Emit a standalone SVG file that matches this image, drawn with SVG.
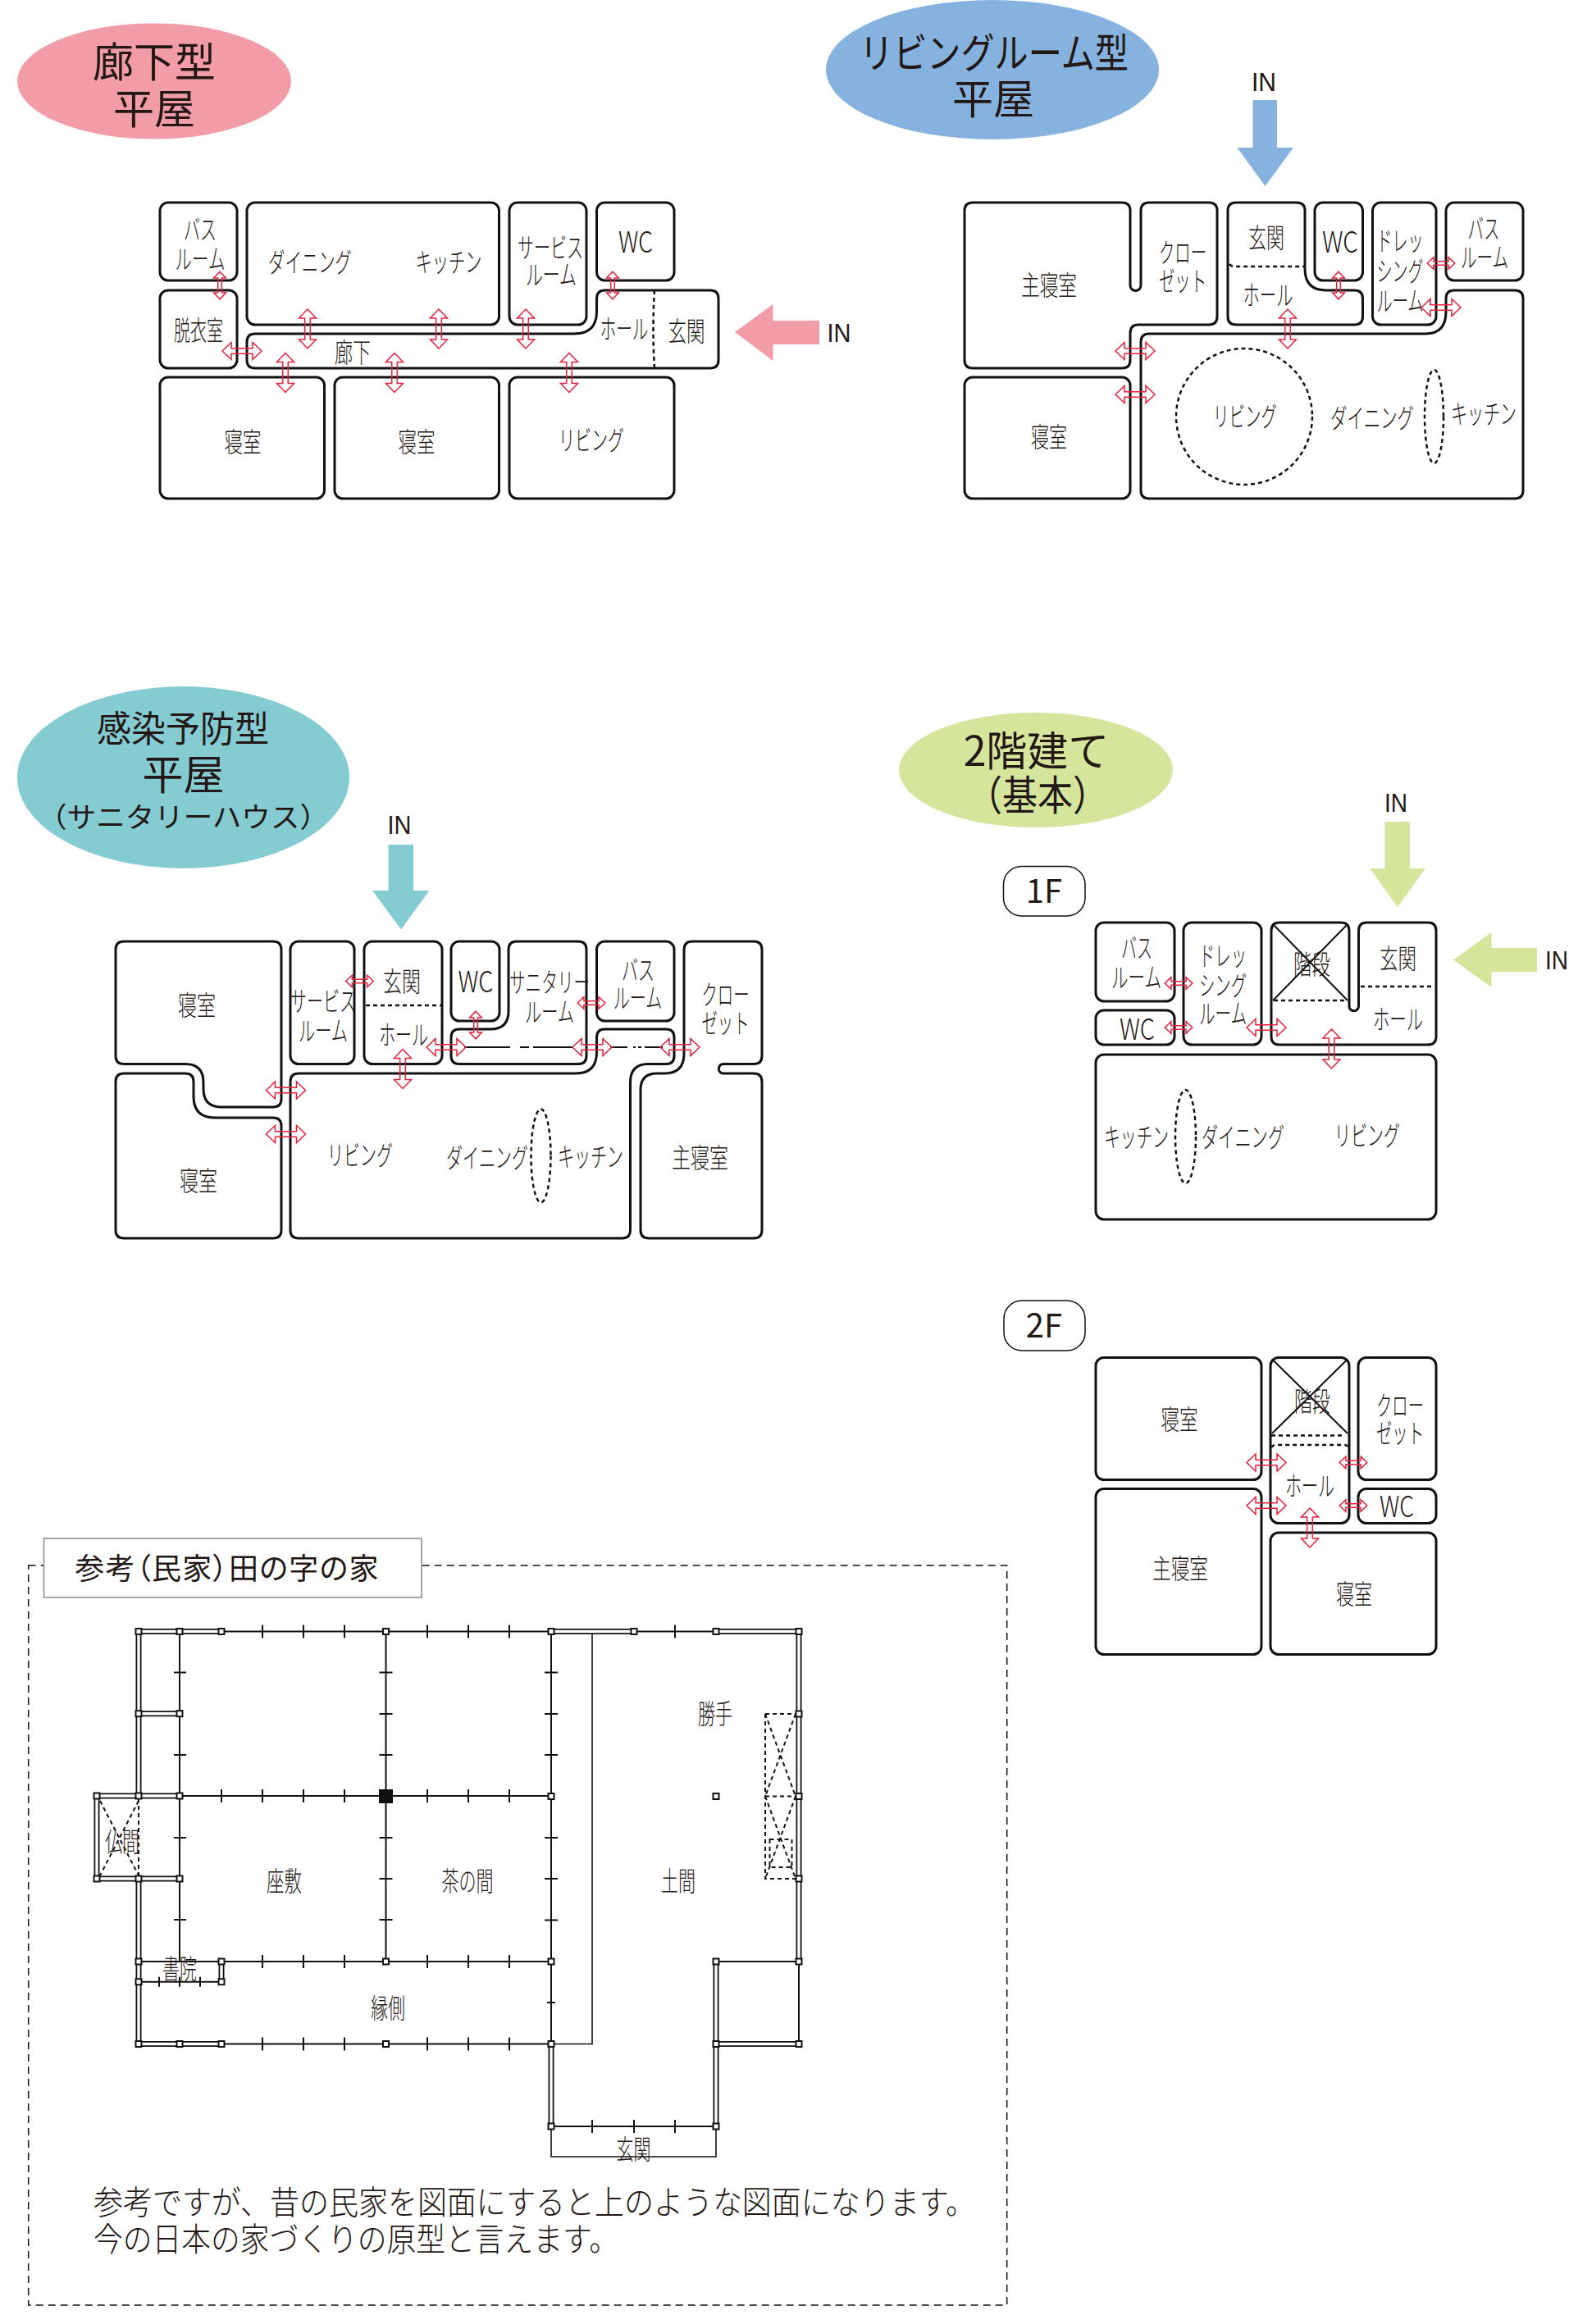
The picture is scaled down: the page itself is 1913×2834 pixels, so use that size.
<svg xmlns="http://www.w3.org/2000/svg" width="1913" height="2834" viewBox="0 0 1913 2834">
<style>
text{font-family:"Noto Sans CJK JP","Noto Sans",sans-serif;fill:#231815;text-anchor:middle}
.l{font-size:33px;font-weight:300}
.w{font-size:36px;font-weight:300}
.i{font-size:32px;font-family:"Liberation Sans","Noto Sans CJK JP",sans-serif}
.t{font-size:50px}
.r{fill:#fff;stroke:#111;stroke-width:3}
.n{fill:none;stroke:#111;stroke-width:2}
.d{fill:none;stroke:#111;stroke-width:2.5;stroke-dasharray:5 4}
.hd{fill:none;stroke:#111;stroke-width:2;stroke-dasharray:5 4}
.th{fill:none;stroke:#111;stroke-width:1.6}
.a{fill:none;stroke:#e8203c;stroke-width:1.5;vector-effect:non-scaling-stroke}
.p{fill:#fff;stroke:#111;stroke-width:2}
.w1{fill:none;stroke:#111;stroke-width:7}
.w2{fill:none;stroke:#fff;stroke-width:3.4}
</style>
<defs>
<path id="a" class="a" d="M-24 0L-13 -10.5V-3.3H13V-10.5L24 0L13 10.5V3.3H-13V10.5Z"/>
<rect id="p" class="p" x="-3.5" y="-3.5" width="7" height="7"/>
<path id="wall" d="M169 1989.5H270M169 1989.5V2190M169 2089.7H219M118 2190H219M118 2190V2291M118 2291H219M169 2291V2492.5M169 2492.5H270M270 2392V2416.7M672 1989.5H773M873 1989.5H974V2392M672 2492.5V2593M873 2392V2593M873 2492.5H974"/>
</defs>
<rect width="1913" height="2834" fill="#fff"/>

<!-- A -->
<g id="title-a"><ellipse cx="188" cy="99" rx="167" ry="70.5" fill="#f29ca8"/>
<text class="t" x="188" y="94">廊下型</text><text class="t" x="188" y="151">平屋</text></g>
<g id="a-bath"><rect class="r" x="195" y="247" width="94" height="95" rx="10"/><text class="l" x="244" y="292" textLength="40" lengthAdjust="spacingAndGlyphs">バス</text><text class="l" x="244" y="328" textLength="61" lengthAdjust="spacingAndGlyphs">ルーム</text></g>
<g id="a-dress"><rect class="r" x="195" y="354" width="94" height="95" rx="10"/><text class="l" x="242" y="415" textLength="60" lengthAdjust="spacingAndGlyphs">脱衣室</text></g>
<g id="a-dining"><rect class="r" x="301" y="247" width="307.500" height="149" rx="10"/><text class="l" x="378" y="332" textLength="102" lengthAdjust="spacingAndGlyphs">ダイニング</text><text class="l" x="547" y="332" textLength="81" lengthAdjust="spacingAndGlyphs">キッチン</text></g>
<g id="a-service"><rect class="r" x="621" y="247" width="94" height="149" rx="10"/><text class="l" x="671" y="314" textLength="80" lengthAdjust="spacingAndGlyphs">サービス</text><text class="l" x="672" y="347" textLength="62" lengthAdjust="spacingAndGlyphs">ルーム</text></g>
<g id="a-wc"><rect class="r" x="727.500" y="247" width="94.500" height="95" rx="10"/><text class="w" x="775" y="308" textLength="42" lengthAdjust="spacingAndGlyphs">WC</text></g>
<g id="a-corridor"><path class="r" d="M311 407H700Q727.500 407 727.500 380V364Q727.500 354 737.500 354H866Q876 354 876 364V439Q876 449 866 449H311Q301 449 301 439V417Q301 407 311 407Z"/>
<path class="d" d="M798 354Q795 400 798 449"/>
<text class="l" x="430" y="442" textLength="44" lengthAdjust="spacingAndGlyphs">廊下</text><text class="l" x="761" y="413" textLength="59" lengthAdjust="spacingAndGlyphs">ホール</text><text class="l" x="837" y="416" textLength="45" lengthAdjust="spacingAndGlyphs">玄関</text></g>
<g id="a-bed1"><rect class="r" x="195" y="460" width="200.500" height="148" rx="10"/><text class="l" x="296" y="551" textLength="45" lengthAdjust="spacingAndGlyphs">寝室</text></g>
<g id="a-bed2"><rect class="r" x="408" y="460" width="200.500" height="148" rx="10"/><text class="l" x="508" y="551" textLength="45" lengthAdjust="spacingAndGlyphs">寝室</text></g>
<g id="a-living"><rect class="r" x="621" y="460" width="201" height="148" rx="10"/><text class="l" x="721" y="549" textLength="80" lengthAdjust="spacingAndGlyphs">リビング</text></g>
<g id="a-in"><polygon points="896,405 942.500,371 942.500,391 999,391 999,420 942.500,420 942.500,440" fill="#f29ca8"/><text class="i" x="1023" y="417" textLength="29" lengthAdjust="spacingAndGlyphs">IN</text></g>

<!-- B -->
<g id="title-b"><ellipse cx="1210" cy="85" rx="203" ry="85" fill="#85b2de"/>
<text class="t" x="1212" y="83" textLength="328" lengthAdjust="spacingAndGlyphs">リビングルーム型</text><text class="t" x="1211" y="139">平屋</text></g>
<g id="b-in"><text class="i" x="1541" y="111" textLength="30" lengthAdjust="spacingAndGlyphs">IN</text><polygon points="1527.500,122 1557,122 1557,180 1577,180 1542.500,227 1508.500,180 1527.500,180" fill="#85b2de"/></g>
<g id="b-master"><path class="r" d="M1186 247H1368Q1378 247 1378 257V348A6.500 6.500 0 0 0 1391 348V257Q1391 247 1401 247H1474Q1484 247 1484 257V386Q1484 396 1474 396H1388Q1378 396 1378 406V439Q1378 449 1368 449H1186Q1176 449 1176 439V257Q1176 247 1186 247Z"/>
<text class="l" x="1279" y="360" textLength="68" lengthAdjust="spacingAndGlyphs">主寝室</text><text class="l" x="1442" y="320" textLength="58" lengthAdjust="spacingAndGlyphs">クロー</text><text class="l" x="1442" y="355" textLength="58" lengthAdjust="spacingAndGlyphs">ゼット</text></g>
<g id="b-entry"><path class="r" d="M1507 247H1581Q1591 247 1591 257V328Q1591 354 1617 354H1651.500Q1661.500 354 1661.500 364V386Q1661.500 396 1651.500 396H1507Q1497 396 1497 386V257Q1497 247 1507 247Z"/>
<path class="d" d="M1499 322Q1501 325 1506 325H1590"/>
<text class="l" x="1544" y="302" textLength="44" lengthAdjust="spacingAndGlyphs">玄関</text><text class="l" x="1546" y="372" textLength="61" lengthAdjust="spacingAndGlyphs">ホール</text></g>
<g id="b-wc"><rect class="r" x="1603" y="247" width="58.500" height="95" rx="10"/><text class="w" x="1634" y="308" textLength="44" lengthAdjust="spacingAndGlyphs">WC</text></g>
<g id="b-dress"><rect class="r" x="1673.500" y="247" width="77.500" height="149" rx="10"/><text class="l" x="1707" y="306" textLength="57" lengthAdjust="spacingAndGlyphs">ドレッ</text><text class="l" x="1707" y="343" textLength="57" lengthAdjust="spacingAndGlyphs">シング</text><text class="l" x="1707" y="379" textLength="57" lengthAdjust="spacingAndGlyphs">ルーム</text></g>
<g id="b-bath"><rect class="r" x="1763" y="247" width="94" height="95" rx="10"/><text class="l" x="1809" y="291" textLength="39" lengthAdjust="spacingAndGlyphs">バス</text><text class="l" x="1810" y="326" textLength="58" lengthAdjust="spacingAndGlyphs">ルーム</text></g>
<g id="b-living"><path class="r" d="M1401 407H1738Q1763 407 1763 380V364Q1763 354 1773 354H1847Q1857 354 1857 364V598Q1857 608 1847 608H1401Q1391 608 1391 598V417Q1391 407 1401 407Z"/>
<ellipse class="d" cx="1517" cy="508" rx="83" ry="83"/><ellipse class="d" cx="1748.500" cy="508" rx="11.500" ry="57"/>
<text class="l" x="1518" y="520" textLength="78" lengthAdjust="spacingAndGlyphs">リビング</text><text class="l" x="1673" y="522" textLength="102" lengthAdjust="spacingAndGlyphs">ダイニング</text><text class="l" x="1809" y="517" textLength="80" lengthAdjust="spacingAndGlyphs">キッチン</text></g>
<g id="b-bed"><rect class="r" x="1176" y="460" width="202" height="148" rx="10"/><text class="l" x="1279" y="545" textLength="44" lengthAdjust="spacingAndGlyphs">寝室</text></g>

<!-- C -->
<g id="title-c"><ellipse cx="223.500" cy="948" rx="202.500" ry="111" fill="#85ccd2"/>
<text class="t" x="223" y="905" textLength="210" lengthAdjust="spacingAndGlyphs" style="font-size:44px">感染予防型</text><text class="t" x="223.500" y="963">平屋</text><text x="223.500" y="1009" style="font-size:34px" textLength="355" lengthAdjust="spacingAndGlyphs">（サニタリーハウス）</text></g>
<g id="c-in"><text class="i" x="487" y="1017" textLength="29" lengthAdjust="spacingAndGlyphs">IN</text><polygon points="473.500,1030 504,1030 504,1086 523.500,1086 489,1133.500 454,1086 473.500,1086" fill="#85ccd2"/></g>
<g id="c-bed1"><path class="r" d="M151 1148H333Q343 1148 343 1158V1340Q343 1350 333 1350H270Q248 1350 248 1328V1320Q248 1297.500 226 1297.500H151Q141 1297.500 141 1287.500V1158Q141 1148 151 1148Z"/><text class="l" x="240" y="1238" textLength="46" lengthAdjust="spacingAndGlyphs">寝室</text></g>
<g id="c-bed2"><path class="r" d="M151 1309H226Q236 1309 236 1319V1337Q236 1363 262 1363H333Q343 1363 343 1373V1500Q343 1510 333 1510H151Q141 1510 141 1500V1319Q141 1309 151 1309Z"/><text class="l" x="242" y="1452" textLength="46" lengthAdjust="spacingAndGlyphs">寝室</text></g>
<g id="c-service"><rect class="r" x="354" y="1148" width="78" height="149.500" rx="10"/><text class="l" x="394" y="1233" textLength="80" lengthAdjust="spacingAndGlyphs">サービス</text><text class="l" x="394" y="1269" textLength="60" lengthAdjust="spacingAndGlyphs">ルーム</text></g>
<g id="c-entry"><rect class="r" x="444" y="1148" width="95" height="149.500" rx="10"/><path class="d" d="M446 1226H538"/><text class="l" x="490" y="1209" textLength="46" lengthAdjust="spacingAndGlyphs">玄関</text><text class="l" x="492" y="1274" textLength="60" lengthAdjust="spacingAndGlyphs">ホール</text></g>
<g id="c-wc"><rect class="r" x="550" y="1148" width="59" height="97" rx="10"/><text class="w" x="580" y="1210" textLength="43" lengthAdjust="spacingAndGlyphs">WC</text></g>
<g id="c-sanitary"><path class="r" d="M630 1148H705Q715 1148 715 1158V1287.500Q715 1297.500 705 1297.500H560Q550 1297.500 550 1287.500V1265Q550 1255 560 1255H598Q620 1255 620 1233V1158Q620 1148 630 1148Z"/>
<path class="n" d="M566 1277H622M634 1277H645M650 1277H698"/><text class="l" x="670" y="1210" textLength="98" lengthAdjust="spacingAndGlyphs">サニタリー</text><text class="l" x="670" y="1246" textLength="60" lengthAdjust="spacingAndGlyphs">ルーム</text></g>
<g id="c-bath"><rect class="r" x="727.500" y="1148" width="94.500" height="97" rx="10"/><text class="l" x="778" y="1195" textLength="40" lengthAdjust="spacingAndGlyphs">バス</text><text class="l" x="777.500" y="1229" textLength="59" lengthAdjust="spacingAndGlyphs">ルーム</text></g>
<g id="c-living"><path class="r" d="M364 1309H702Q727.500 1309 727.500 1283V1265Q727.500 1255 737.500 1255H812Q822 1255 822 1265V1287.500Q822 1297.500 812 1297.500H790Q768.500 1297.500 768.500 1320V1500Q768.500 1510 758.500 1510H364Q354 1510 354 1500V1319Q354 1309 364 1309Z"/>
<path class="n" d="M744 1277H765M772 1277H775M778 1277H782M786 1277H808"/><ellipse class="d" cx="659.500" cy="1409.500" rx="12" ry="57"/>
<text class="l" x="439" y="1421" textLength="80" lengthAdjust="spacingAndGlyphs">リビング</text><text class="l" x="594" y="1424" textLength="100" lengthAdjust="spacingAndGlyphs">ダイニング</text><text class="l" x="720" y="1423" textLength="80" lengthAdjust="spacingAndGlyphs">キッチン</text></g>
<g id="c-master"><path class="r" d="M844 1148H919Q929 1148 929 1158V1287.500Q929 1297.500 919 1297.500H882A5.750 5.750 0 0 0 882 1309H919Q929 1309 929 1319V1500Q929 1510 919 1510H791Q781 1510 781 1500V1329Q781 1309 801 1309H810Q834 1309 834 1285V1158Q834 1148 844 1148Z"/>
<text class="l" x="884.500" y="1225" textLength="58" lengthAdjust="spacingAndGlyphs">クロー</text><text class="l" x="884.500" y="1260" textLength="58" lengthAdjust="spacingAndGlyphs">ゼット</text><text class="l" x="853.500" y="1424" textLength="69" lengthAdjust="spacingAndGlyphs">主寝室</text></g>

<!-- D 1F -->
<g id="title-d"><ellipse cx="1263" cy="939" rx="167" ry="70" fill="#d5e59c"/>
<text class="t" x="1263.500" y="934">2階建て</text><text class="t" x="1265" y="988" textLength="172" lengthAdjust="spacingAndGlyphs">（基本）</text></g>
<g id="d-in1"><text class="i" x="1702" y="990" textLength="28" lengthAdjust="spacingAndGlyphs">IN</text><polygon points="1688.500,1002 1719,1002 1719,1059 1738,1059 1704,1106 1670,1059 1688.500,1059" fill="#d5e59c"/></g>
<g id="d-in2"><polygon points="1772,1170.500 1818.500,1137 1818.500,1156 1874,1156 1874,1185 1818.500,1185 1818.500,1204" fill="#d5e59c"/><text class="i" x="1898" y="1182" textLength="28" lengthAdjust="spacingAndGlyphs">IN</text></g>
<g id="d-1f"><rect x="1223.500" y="1056.500" width="99.500" height="60.500" rx="22" fill="#fff" stroke="#111" stroke-width="1.500"/><text x="1273" y="1101" style="font-size:40px">1F</text></g>
<g id="d-bath"><rect class="r" x="1336" y="1125" width="96" height="96" rx="10"/><text class="l" x="1386" y="1168" textLength="38" lengthAdjust="spacingAndGlyphs">バス</text><text class="l" x="1385.500" y="1204" textLength="61" lengthAdjust="spacingAndGlyphs">ルーム</text></g>
<g id="d-wc"><rect class="r" x="1336" y="1232" width="96" height="42" rx="10"/><text class="w" x="1386.500" y="1268" textLength="43" lengthAdjust="spacingAndGlyphs">WC</text></g>
<g id="d-dress"><rect class="r" x="1443" y="1125" width="95" height="149" rx="10"/><text class="l" x="1491" y="1178" textLength="58" lengthAdjust="spacingAndGlyphs">ドレッ</text><text class="l" x="1491" y="1214" textLength="58" lengthAdjust="spacingAndGlyphs">シング</text><text class="l" x="1491" y="1248" textLength="58" lengthAdjust="spacingAndGlyphs">ルーム</text></g>
<g id="d-hall"><path class="r" d="M1560 1125H1635Q1645 1125 1645 1135V1227A5.750 5.750 0 0 0 1656.500 1227V1135Q1656.500 1125 1666.500 1125H1741Q1751 1125 1751 1135V1264Q1751 1274 1741 1274H1560Q1550 1274 1550 1264V1135Q1550 1125 1560 1125Z"/>
<path class="n" d="M1552 1127L1643 1220M1643 1127L1552 1220"/><path class="d" d="M1553 1220H1642M1659 1203H1748"/>
<text class="l" x="1599.500" y="1188" textLength="45" lengthAdjust="spacingAndGlyphs">階段</text><text class="l" x="1704.500" y="1181" textLength="45" lengthAdjust="spacingAndGlyphs">玄関</text><text class="l" x="1704.500" y="1255" textLength="61" lengthAdjust="spacingAndGlyphs">ホール</text></g>
<g id="d-living"><rect class="r" x="1336" y="1286" width="415" height="201" rx="10"/><ellipse class="d" cx="1445.500" cy="1386" rx="12.500" ry="57"/>
<text class="l" x="1385.500" y="1399" textLength="79" lengthAdjust="spacingAndGlyphs">キッチン</text><text class="l" x="1515.500" y="1399" textLength="101" lengthAdjust="spacingAndGlyphs">ダイニング</text><text class="l" x="1667" y="1397" textLength="80" lengthAdjust="spacingAndGlyphs">リビング</text></g>

<!-- 2F -->
<g id="e-2f"><rect x="1224" y="1586" width="99" height="61" rx="22" fill="#fff" stroke="#111" stroke-width="1.500"/><text x="1273" y="1631" style="font-size:40px">2F</text></g>
<g id="e-bed1"><rect class="r" x="1336" y="1655.500" width="202" height="149" rx="10"/><text class="l" x="1438" y="1743" textLength="45" lengthAdjust="spacingAndGlyphs">寝室</text></g>
<g id="e-master"><rect class="r" x="1336" y="1815.500" width="202" height="202" rx="10"/><text class="l" x="1439" y="1925" textLength="68" lengthAdjust="spacingAndGlyphs">主寝室</text></g>
<g id="e-hall"><rect class="r" x="1549" y="1655.500" width="96" height="202" rx="10"/><path class="n" d="M1551 1657.500L1643 1748M1643 1657.500L1551 1748"/><path class="d" d="M1550 1750.500H1640M1550 1765Q1552 1762 1557 1762H1638Q1643 1762 1645 1765"/>
<text class="l" x="1600" y="1721" textLength="44" lengthAdjust="spacingAndGlyphs">階段</text><text class="l" x="1597" y="1824" textLength="60" lengthAdjust="spacingAndGlyphs">ホール</text></g>
<g id="e-closet"><rect class="r" x="1656" y="1655.500" width="95" height="149" rx="10"/><text class="l" x="1707" y="1726" textLength="58" lengthAdjust="spacingAndGlyphs">クロー</text><text class="l" x="1707" y="1760" textLength="58" lengthAdjust="spacingAndGlyphs">ゼット</text></g>
<g id="e-wc"><rect class="r" x="1656" y="1815.500" width="95" height="42" rx="10"/><text class="w" x="1703" y="1850" textLength="42" lengthAdjust="spacingAndGlyphs">WC</text></g>
<g id="e-bed2"><rect class="r" x="1549" y="1869" width="202" height="148.500" rx="10"/><text class="l" x="1651" y="1956" textLength="44" lengthAdjust="spacingAndGlyphs">寝室</text></g>

<!-- reference plan -->
<g id="ref-frame"><rect x="34.700" y="1909" width="1193" height="902" fill="none" stroke="#111" stroke-width="1.500" stroke-dasharray="9 6"/>
<rect x="53.500" y="1876" width="460.500" height="72" fill="#fff" stroke="#888" stroke-width="1.500"/>
<text x="277" y="1926" style="font-size:36px;font-feature-settings:'palt';letter-spacing:1.300px">参考（民家）田の字の家</text></g>
<g id="ref-plan">
<path class="n" d="M270 1989.500H672M773 1989.500H873M219 1989.500V2392M470.500 1989.500V2392M672 1989.500V2492.500M219 2190H672M169 2392H672M169 2416.700H270M270 2492.500H672M672 2593H873M873 2392H974M974 2392V2492.500"/>
<path class="th" d="M672 2492.500H722V1992M672 2593V2630H873V2593"/>
<use href="#wall" class="w1"/><use href="#wall" class="w2"/>
<path class="n" d="M320 1981.500v16M370 1981.500v16M420 1981.500v16M521 1981.500v16M571 1981.500v16M621 1981.500v16M823 1981.500v16M270 2182v16M320 2182v16M370 2182v16M420 2182v16M521 2182v16M571 2182v16M621 2182v16M320 2384v16M370 2384v16M420 2384v16M521 2384v16M571 2384v16M621 2384v16M320 2484.500v16M370 2484.500v16M420 2484.500v16M521 2484.500v16M571 2484.500v16M621 2484.500v16M194 2410.700v12M219 2410.700v12M244 2410.700v12M722 2585v16M773 2585v16M823 2585v16M212 2039.500h15M212 2140h15M212 2241h15M212 2341h15M462.500 2039.500h16M462.500 2090h16M462.500 2140h16M462.500 2241h16M462.500 2291h16M462.500 2341h16M664 2039.500h16M664 2090h16M664 2140h16M664 2241h16M664 2291h16M664 2341.500h16M667 2442h10"/>
<path class="hd" d="M169 2193V2288M122 2196L169 2287M169 2196L122 2287M933 2090V2291H970M933 2090H970M933 2190.500H970M933 2090L970 2190.500M970 2090L933 2190.500M933 2190.500L970 2291M970 2190.500L933 2291M938.500 2243H965.500V2277H938.500Z"/>
<rect x="462" y="2182" width="17" height="17" fill="#111"/>
<g>
<use href="#p" x="169" y="1989.500"/><use href="#p" x="219" y="1989.500"/><use href="#p" x="270" y="1989.500"/><use href="#p" x="470.500" y="1989.500"/><use href="#p" x="672" y="1989.500"/><use href="#p" x="773" y="1989.500"/><use href="#p" x="873" y="1989.500"/><use href="#p" x="974" y="1989.500"/>
<use href="#p" x="169" y="2089.700"/><use href="#p" x="219" y="2089.700"/><use href="#p" x="974" y="2090"/>
<use href="#p" x="118" y="2190"/><use href="#p" x="169" y="2190"/><use href="#p" x="219" y="2190"/><use href="#p" x="672" y="2190.500"/><use href="#p" x="873" y="2190.500"/><use href="#p" x="974" y="2190.500"/>
<use href="#p" x="118" y="2291"/><use href="#p" x="169" y="2291"/><use href="#p" x="219" y="2291"/><use href="#p" x="974" y="2291"/>
<use href="#p" x="169" y="2392"/><use href="#p" x="270" y="2392"/><use href="#p" x="470.500" y="2392"/><use href="#p" x="672" y="2392"/><use href="#p" x="873" y="2392"/><use href="#p" x="974" y="2392"/>
<use href="#p" x="169" y="2416.700"/><use href="#p" x="270" y="2416.700"/>
<use href="#p" x="169" y="2492.500"/><use href="#p" x="219" y="2492.500"/><use href="#p" x="270" y="2492.500"/><use href="#p" x="470.500" y="2492.500"/><use href="#p" x="672" y="2492.500"/><use href="#p" x="873" y="2492.500"/><use href="#p" x="974" y="2492.500"/>
<use href="#p" x="672" y="2593"/><use href="#p" x="873" y="2593"/>
</g>
<text class="l" x="149" y="2258" textLength="42" lengthAdjust="spacingAndGlyphs">仏間</text>
<text class="l" x="346.500" y="2306" textLength="43" lengthAdjust="spacingAndGlyphs">座敷</text>
<text class="l" x="570" y="2306" textLength="63" lengthAdjust="spacingAndGlyphs">茶の間</text>
<text class="l" x="219" y="2413" textLength="42" lengthAdjust="spacingAndGlyphs">書院</text>
<text class="l" x="473" y="2461" textLength="42" lengthAdjust="spacingAndGlyphs">縁側</text>
<text class="l" x="872" y="2102" textLength="42" lengthAdjust="spacingAndGlyphs">勝手</text>
<text class="l" x="827" y="2306" textLength="42" lengthAdjust="spacingAndGlyphs">土間</text>
<text class="l" x="772.500" y="2633" textLength="42" lengthAdjust="spacingAndGlyphs">玄関</text>
</g>
<g id="ref-note"><text x="114" y="2700" style="font-size:40px;font-weight:300;text-anchor:start" textLength="1075" lengthAdjust="spacingAndGlyphs">参考ですが、昔の民家を図面にすると上のような図面になります。</text>
<text x="114" y="2745" style="font-size:40px;font-weight:300;text-anchor:start" textLength="640" lengthAdjust="spacingAndGlyphs">今の日本の家づくりの原型と言えます。</text></g>

<g id="connectors">
<use href="#a" transform="translate(268 348) rotate(90) scale(.7)"/>
<use href="#a" transform="translate(747 348) rotate(90) scale(.7)"/>
<use href="#a" transform="translate(375 401) rotate(90)"/>
<use href="#a" transform="translate(535 401) rotate(90)"/>
<use href="#a" transform="translate(641 401) rotate(90)"/>
<use href="#a" transform="translate(348 454.500) rotate(90)"/>
<use href="#a" transform="translate(481 454.500) rotate(90)"/>
<use href="#a" transform="translate(694 454.500) rotate(90)"/>
<use href="#a" transform="translate(295 428)"/>
<use href="#a" transform="translate(1632 348) rotate(90) scale(.7)"/>
<use href="#a" transform="translate(1570 401) rotate(90)"/>
<use href="#a" transform="translate(1757 321) scale(.7)"/>
<use href="#a" transform="translate(1757 375)"/>
<use href="#a" transform="translate(1384 428)"/>
<use href="#a" transform="translate(1384 481)"/>
<use href="#a" transform="translate(438.500 1196.500) scale(.7)"/>
<use href="#a" transform="translate(580 1250) rotate(90) scale(.7)"/>
<use href="#a" transform="translate(544 1277)"/>
<use href="#a" transform="translate(722 1277)"/>
<use href="#a" transform="translate(829 1277)"/>
<use href="#a" transform="translate(721 1223) scale(.7)"/>
<use href="#a" transform="translate(491 1303.500) rotate(90)"/>
<use href="#a" transform="translate(348.500 1329.500)"/>
<use href="#a" transform="translate(348.500 1383)"/>
<use href="#a" transform="translate(1437 1199) scale(.7)"/>
<use href="#a" transform="translate(1437 1253) scale(.7)"/>
<use href="#a" transform="translate(1544 1253)"/>
<use href="#a" transform="translate(1623.500 1279) rotate(90)"/>
<use href="#a" transform="translate(1544 1783.500)"/>
<use href="#a" transform="translate(1544 1836)"/>
<use href="#a" transform="translate(1650 1783.500) scale(.7)"/>
<use href="#a" transform="translate(1650 1836) scale(.7)"/>
<use href="#a" transform="translate(1597 1863) rotate(90)"/>
</g>
</svg>
